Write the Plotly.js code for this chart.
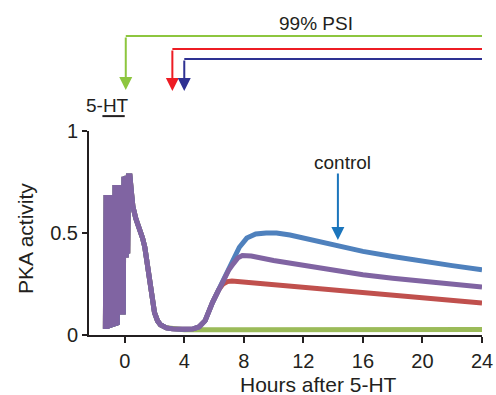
<!DOCTYPE html>
<html><head><meta charset="utf-8">
<script src="https://cdn.plot.ly/plotly-3.0.1.min.js"></script>
<style>html,body{margin:0;padding:0;background:#fff}#chart{width:496px;height:395px}</style>
</head><body><div id="chart"></div>
<script>
// shared 5-HT pulse train (hours, PKA activity)
const pulseX = [-1.30,-1.25,-1.20,-1.15,-1.10,-1.05,-1.00,-0.95,-0.90,-0.85,-0.80,-0.75,-0.70,-0.65,-0.60,-0.55,-0.50,-0.45,-0.40,-0.35,-0.30,-0.25,-0.20,-0.15,-0.10,-0.05,0.00,0.05,0.10,0.15,0.20,0.25,0.30];
const pulseY = [0.03,0.686,0.03,0.686,0.035,0.686,0.035,0.686,0.04,0.686,0.04,0.686,0.045,0.735,0.045,0.735,0.05,0.735,0.10,0.735,0.10,0.735,0.10,0.735,0.10,0.776,0.38,0.778,0.38,0.78,0.40,0.78,0.78];
// shared decay after stimulation
const decayX = [0.35,0.45,0.55,0.75,1.0,1.2,1.35,1.5,1.65,1.8,2.0,2.2,2.4,2.8,3.2];
const decayY = [0.78,0.70,0.63,0.57,0.52,0.475,0.43,0.36,0.27,0.19,0.11,0.07,0.05,0.035,0.03];
// late phase per condition
const greenX = [4.0,8,12,16,20,24];
const greenY = [0.026,0.026,0.027,0.027,0.027,0.027];
const redX = [4.0,4.6,5.0,5.4,5.9,6.3,6.6,6.9,7.2,10,12,14,16,18,20,22,24];
const redY = [0.028,0.03,0.04,0.07,0.16,0.22,0.25,0.262,0.265,0.247,0.235,0.222,0.21,0.197,0.184,0.17,0.157];
const purpleX = [4.0,4.6,5.0,5.4,5.9,6.3,6.6,7.0,7.3,7.6,7.9,8.5,10,12,14,16,18,20,22,24];
const purpleY = [0.028,0.03,0.04,0.07,0.16,0.22,0.27,0.32,0.35,0.378,0.39,0.387,0.365,0.34,0.315,0.295,0.278,0.263,0.248,0.235];
const blueX = [4.0,4.6,5.0,5.4,5.9,6.3,6.6,7.0,7.3,7.7,8.2,8.8,9.5,10.2,11.1,12,14,16,18,20,22,24];
const blueY = [0.028,0.03,0.04,0.07,0.16,0.22,0.27,0.33,0.38,0.43,0.475,0.495,0.50,0.50,0.49,0.475,0.445,0.41,0.385,0.36,0.34,0.32];
// annotation values
const psiStart = [0.07, 3.2, 4.0];
const psiColors = ['#8dc63f','#ed1c24','#2e3192'];
const stimStart = -1.5, stimEnd = 0;
const xTicks = [0,4,8,12,16,20,24];
const yTicks = [0,0.5,1];

const head = (x,y)=>({x: pulseX.concat(decayX, x), y: pulseY.concat(decayY, y)});
const mk = (d,color)=>({x:d.x,y:d.y,type:'scatter',mode:'lines',line:{color:color,width:5},hoverinfo:'skip'});
const data = [
  mk(head(greenX,greenY),'#9bbb59'),
  mk(head(redX,redY),'#c0504d'),
  mk(head(blueX,blueY),'#4f81bd'),
  mk(head(purpleX,purpleY),'#8064a2')
];

const fam = 'Liberation Sans, Arial, sans-serif';
const ink = '#231f20';
const font = {family:fam, size:19, color:ink};
const psiY = [1.466,1.402,1.353];
const tipY = [1.201,1.196,1.196];
const shapes = [];
const annotations = [];
for (let i=0;i<3;i++){
  shapes.push({type:'line',xref:'x',yref:'paper',x0:psiStart[i],x1:24,y0:psiY[i],y1:psiY[i],line:{color:psiColors[i],width:2}});
  annotations.push({xref:'x',yref:'paper',x:psiStart[i],y:tipY[i],ax:0,ay:-(psiY[i]-tipY[i])*204,text:'',showarrow:true,arrowhead:2,arrowsize:1.3,arrowwidth:2,arrowcolor:psiColors[i],standoff:0});
}
shapes.push({type:'line',xref:'x',yref:'paper',x0:stimStart,x1:stimEnd,y0:1.073,y1:1.073,line:{color:ink,width:2}});
const txt = (x,y,text,size,extra)=>Object.assign({xref:'x',yref:'paper',x:x,y:y,text:text,showarrow:false,xanchor:'center',yanchor:'middle',font:{family:fam,size:size,color:ink}},extra||{});
annotations.push(txt(12.84,1.529,'99% PSI',19));
annotations.push(txt(-1.14,1.127,'5-HT',19));
annotations.push(txt(14.66,0.848,'control',19));
annotations.push(txt(13.0,-0.245,'Hours after 5-HT',21));
annotations.push(txt(-0.163,0.475,'PKA activity',21,{xref:'paper',textangle:-90}));
annotations.push({xref:'x',yref:'paper',x:14.32,y:0.466,ax:0,ay:-68,text:'',showarrow:true,arrowhead:2,arrowsize:1.3,arrowwidth:2,arrowcolor:'#1b75bc',standoff:0});

const layout = {
  width:496,height:395,
  margin:{l:89,r:14,t:131,b:60,pad:0},
  paper_bgcolor:'#fff',plot_bgcolor:'#fff',
  showlegend:false,
  font:font,
  xaxis:{range:[-2.4,24],tickvals:xTicks,ticktext:xTicks.map(String),showgrid:false,zeroline:false,
    showline:true,linecolor:ink,linewidth:2,ticks:'outside',ticklen:6,tickwidth:2,tickcolor:ink,
    tickfont:{family:fam,size:20,color:ink},ticklabelstandoff:1},
  yaxis:{range:[0,1],tickvals:yTicks,ticktext:['0','0.5','1'],showgrid:false,zeroline:false,
    showline:true,linecolor:ink,linewidth:2,ticks:'outside',ticklen:5,tickwidth:2,tickcolor:ink,
    tickfont:{family:fam,size:20,color:ink}},
  shapes:shapes,annotations:annotations
};
Plotly.newPlot('chart',data,layout,{displayModeBar:false,staticPlot:true});
</script></body></html>
